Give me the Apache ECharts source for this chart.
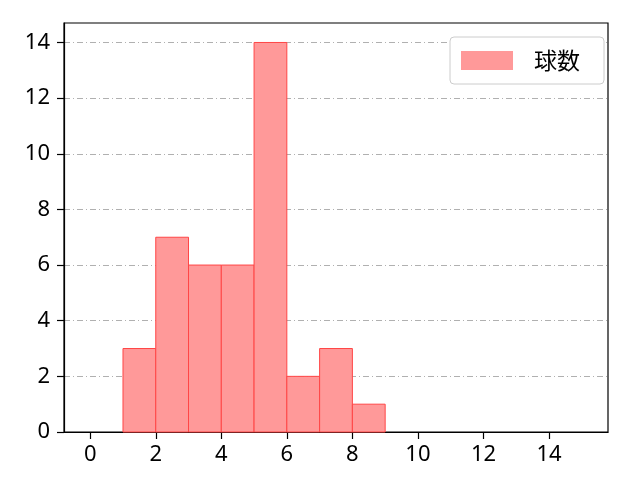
<!DOCTYPE html>
<html><head><meta charset="utf-8">
<script src="https://cdn.jsdelivr.net/npm/echarts@6/dist/echarts.min.js"></script>
<style>html,body{margin:0;padding:0;background:#fff}#c{width:640px;height:480px}</style>
</head><body><div id="c"></div>
<script>
const binStarts = [1, 2, 3, 4, 5, 6, 7, 8];
const binEnds   = [2, 3, 4, 5, 6, 7, 8, 9];
const counts    = [3, 7, 6, 6, 14, 2, 3, 1];
const seriesName = '球数';
const xTicks = [0, 2, 4, 6, 8, 10, 12, 14];
const yTicks = [0, 2, 4, 6, 8, 10, 12, 14];

const FONT = '"Noto Sans", "Noto Sans CJK JP", sans-serif';
const CJK = '"Noto Sans CJK JP", sans-serif';
const chart = echarts.init(document.getElementById('c'));
const data = binStarts.map((s, i) => [s, binEnds[i], counts[i]]);
chart.setOption({
  animation: false,
  grid: {left: 64, right: 32, top: 23, bottom: 48, show: true, borderColor: '#000', borderWidth: 1.2, backgroundColor: 'transparent'},
  legend: {
    right: 36, top: 37, orient: 'vertical',
    data: [{name: seriesName, icon: 'rect'}],
    itemWidth: 52, itemHeight: 19, itemGap: 10,
    padding: [12, 24, 12, 11],
    borderColor: '#ccc', borderWidth: 1, borderRadius: 4,
    backgroundColor: '#fff',
    textStyle: {fontFamily: CJK, fontSize: 23, color: '#000', padding: [0, 0, 0, 16]}
  },
  xAxis: {
    type: 'value', min: -0.8, max: 15.8, interval: 2,
    axisLine: {show: true, onZero: false, lineStyle: {color: '#000', width: 1.2}},
    axisTick: {show: true, length: 7, lineStyle: {color: '#000', width: 1.2}, customValues: xTicks},
    axisLabel: {fontFamily: FONT, fontSize: 22, color: '#000', margin: 12, customValues: xTicks},
    splitLine: {show: false}
  },
  yAxis: {
    type: 'value', min: 0, max: 14.7,
    axisLine: {show: true, onZero: false, lineStyle: {color: '#000', width: 1.2}},
    axisTick: {show: true, length: 7, lineStyle: {color: '#000', width: 1.2}, customValues: yTicks},
    axisLabel: {fontFamily: FONT, fontSize: 22, color: '#000', margin: 14, customValues: yTicks},
    splitLine: {show: true, lineStyle: {color: '#b0b0b0', width: 1, type: [6, 3, 1, 3]}}
  },
  series: [{
    name: seriesName, type: 'custom',
    itemStyle: {color: 'rgba(255,153,153,1)', borderColor: 'rgba(255,60,60,1)'},
    renderItem: function (params, api) {
      const p0 = api.coord([api.value(0), 0]);
      const p1 = api.coord([api.value(1), api.value(2)]);
      return {
        type: 'rect',
        shape: {x: p0[0], y: p1[1], width: p1[0] - p0[0], height: p0[1] - p1[1]},
        style: {fill: 'rgba(255,153,153,1)', stroke: 'rgba(255,70,70,1)', lineWidth: 1}
      };
    },
    encode: {x: [0, 1], y: 2},
    data: data
  }]
});
</script></body></html>
